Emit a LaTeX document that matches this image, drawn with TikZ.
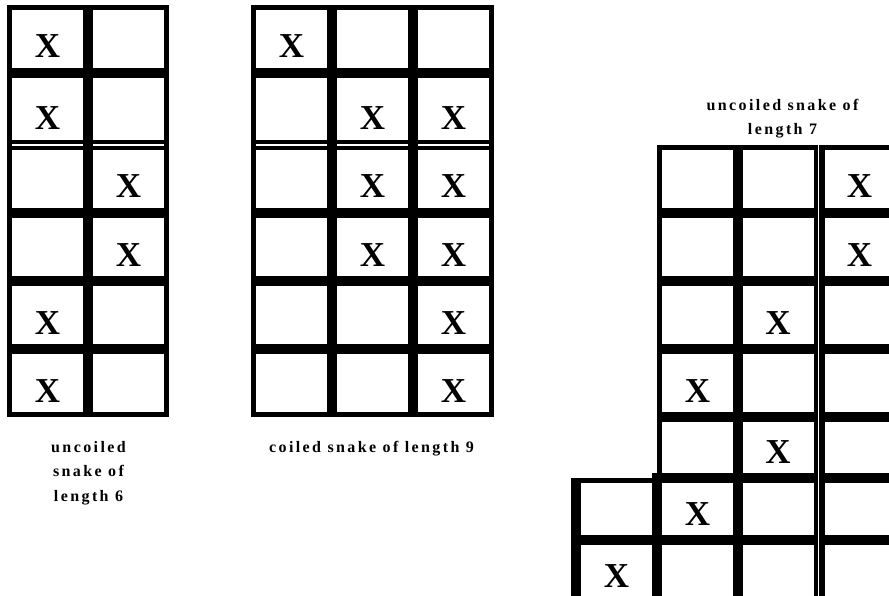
\documentclass[tikz,border=0pt]{standalone}
\usepackage{fontspec}
\setmainfont{Liberation Serif}
\newfontfamily\capfont[LetterSpace=15]{Liberation Serif}
\begin{document}
\begin{tikzpicture}[x=1pt,y=-1pt,
  gline/.style={line width=10pt},
  bline/.style={line width=5pt},
  wline/.style={white,line width=1.2pt},
  xmark/.style={font=\fontsize{35}{35}\selectfont\bfseries, anchor=base, inner sep=0pt},
  capt/.style={font=\capfont\bfseries\fontsize{16}{24.5}\selectfont, align=center, anchor=north, inner sep=0pt}]
\useasboundingbox (0,0) rectangle (889,596);
\clip (0,0) rectangle (889,596);
\fill[white] (0,0) rectangle (889,596);

% ---------- left grid (uncoiled snake of length 6)
\foreach \y in {73,145,213,281,349} \draw[gline] (9.5,\y) -- (166.5,\y);
\draw[gline] (88,7.5) -- (88,414.5);
\draw[bline] (9.5,7.5) rectangle (166.5,414.5);
\draw[wline] (12,145) -- (83,145) (93,145) -- (164,145);

% ---------- middle grid (coiled snake of length 9)
\foreach \y in {73,145,213,281,349} \draw[gline] (253.5,\y) -- (491.5,\y);
\draw[gline] (332,7.5) -- (332,414.5) (413,7.5) -- (413,414.5);
\draw[bline] (253.5,7.5) rectangle (491.5,414.5);
\draw[wline] (256,145) -- (327,145) (337,145) -- (408,145) (418,145) -- (489,145);

% ---------- right grid (uncoiled snake of length 7)
\foreach \y in {213,281,349,417,478} \draw[gline] (657,\y) -- (889,\y);
\draw[gline] (571,540) -- (889,540);
\draw[bline] (657,147.5) -- (889,147.5);
\draw[bline] (659.5,145) -- (659.5,478);
\draw[gline] (657,473) -- (657,596);
\draw[gline] (738,145) -- (738,596);
\draw[line width=11pt] (819,145) -- (819,596);
\draw[wline] (818.8,145) -- (818.8,596);
\draw[gline] (576,478.2) -- (576,596);
\draw[line width=4.6pt] (571,480.5) -- (657,480.5);

% ---------- marks, left grid
\node[xmark] (l1) at (47.5,58) {X};
\node[xmark] (l2) at (47.5,130) {X};
\node[xmark] (l3) at (128.5,198) {X};
\node[xmark] (l4) at (128.5,266) {X};
\node[xmark] (l5) at (47.5,334) {X};
\node[xmark] (l6) at (47.5,402) {X};

% ---------- marks, middle grid
\node[xmark] (m1) at (291.5,58) {X};
\node[xmark] (m2) at (372.5,130) {X};
\node[xmark] (m3) at (453.5,130) {X};
\node[xmark] (m4) at (372.5,198) {X};
\node[xmark] (m5) at (453.5,198) {X};
\node[xmark] (m6) at (372.5,266) {X};
\node[xmark] (m7) at (453.5,266) {X};
\node[xmark] (m8) at (453.5,334) {X};
\node[xmark] (m9) at (453.5,402) {X};

% ---------- marks, right grid
\node[xmark] (r1) at (859.5,198) {X};
\node[xmark] (r2) at (859.5,266) {X};
\node[xmark] (r3) at (778,334) {X};
\node[xmark] (r4) at (697.5,402) {X};
\node[xmark] (r5) at (778,463) {X};
\node[xmark] (r6) at (697.5,525) {X};
\node[xmark] (r7) at (616.5,587) {X};

% ---------- captions
\node[capt] (c6) at (88.5,441) {uncoiled\\snake of\\length 6};
\node[capt] (c9) at (371.5,441) {coiled snake of length 9};
\node[capt] (c7) at (782.5,99) {uncoiled snake of\\length 7};
\end{tikzpicture}
\end{document}
